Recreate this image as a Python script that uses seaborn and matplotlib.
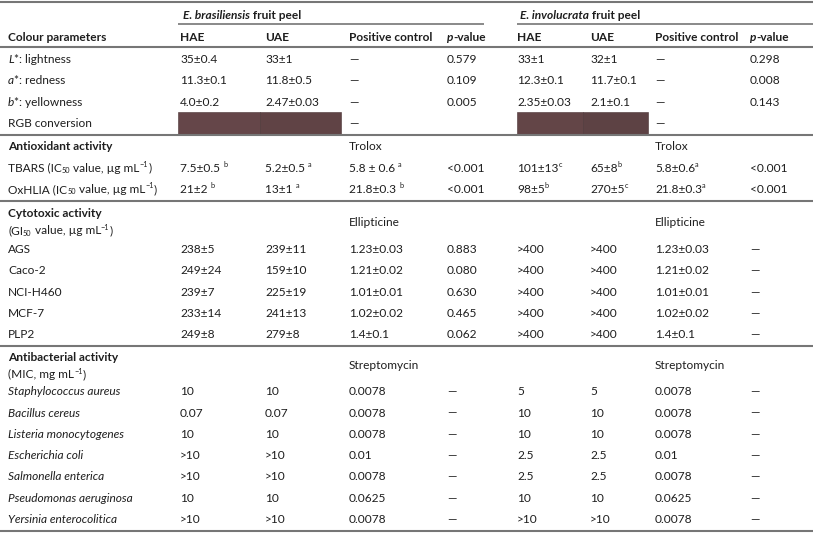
import re
import matplotlib
matplotlib.use("Agg")
import matplotlib.pyplot as plt
from matplotlib.patches import Rectangle
from matplotlib.font_manager import FontProperties
import seaborn as sns

# table content, "|" toggles italics, ^{..} superscript, _{..} subscript
species = ["|E. brasiliensis| fruit peel", "|E. involucrata| fruit peel"]
columns = ["HAE", "UAE", "Positive control", "|p|-value"]

colour_labels = ["|L|*: lightness", "|a|*: redness", "|b|*: yellowness", "RGB conversion"]
colour_brasiliensis = [["35±0.4", "33±1", "—", "0.579"],
                       ["11.3±0.1", "11.8±0.5", "—", "0.109"],
                       ["4.0±0.2", "2.47±0.03", "—", "0.005"],
                       ["", "", "—", ""]]
colour_involucrata = [["33±1", "32±1", "—", "0.298"],
                      ["12.3±0.1", "11.7±0.1", "—", "0.008"],
                      ["2.35±0.03", "2.1±0.1", "—", "0.143"],
                      ["", "", "—", ""]]
rgb_brasiliensis = ["#654649", "#604345"]
rgb_involucrata = ["#634547", "#5d4244"]

antiox_labels = ["TBARS (IC_{50} value, µg mL^{−1})", "OxHLIA (IC_{50} value, µg mL^{−1})"]
antiox_brasiliensis = [["7.5±0.5 ^{b}", "5.2±0.5 ^{a}", "5.8 ± 0.6 ^{a}", "<0.001"],
                       ["21±2 ^{b}", "13±1 ^{a}", "21.8±0.3 ^{b}", "<0.001"]]
antiox_involucrata = [["101±13^{c}", "65±8^{b}", "5.8±0.6^{a}", "<0.001"],
                      ["98±5^{b}", "270±5^{c}", "21.8±0.3^{a}", "<0.001"]]

cyto_labels = ["AGS", "Caco-2", "NCI-H460", "MCF-7", "PLP2"]
cyto_brasiliensis = [["238±5", "239±11", "1.23±0.03", "0.883"],
                     ["249±24", "159±10", "1.21±0.02", "0.080"],
                     ["239±7", "225±19", "1.01±0.01", "0.630"],
                     ["233±14", "241±13", "1.02±0.02", "0.465"],
                     ["249±8", "279±8", "1.4±0.1", "0.062"]]
cyto_involucrata = [[">400", ">400", "1.23±0.03", "—"],
                    [">400", ">400", "1.21±0.02", "—"],
                    [">400", ">400", "1.01±0.01", "—"],
                    [">400", ">400", "1.02±0.02", "—"],
                    [">400", ">400", "1.4±0.1", "—"]]

bact_labels = ["|Staphylococcus aureus|", "|Bacillus cereus|", "|Listeria monocytogenes|",
               "|Escherichia coli|", "|Salmonella enterica|", "|Pseudomonas aeruginosa|",
               "|Yersinia enterocolitica|"]
bact_brasiliensis = [["10", "10", "0.0078", "—"],
                     ["0.07", "0.07", "0.0078", "—"],
                     ["10", "10", "0.0078", "—"],
                     [">10", ">10", "0.01", "—"],
                     [">10", ">10", "0.0078", "—"],
                     ["10", "10", "0.0625", "—"],
                     [">10", ">10", "0.0078", "—"]]
bact_involucrata = [["5", "5", "0.0078", "—"],
                    ["10", "10", "0.0078", "—"],
                    ["10", "10", "0.0078", "—"],
                    ["2.5", "2.5", "0.01", "—"],
                    ["2.5", "2.5", "0.0078", "—"],
                    ["10", "10", "0.0625", "—"],
                    [">10", ">10", "0.0078", "—"]]

section_titles = ["Antioxidant activity", "Cytotoxic activity", "Antibacterial activity"]
section_units = ["", "(GI_{50} value, µg mL^{−1})", "(MIC, mg mL^{−1})"]
section_controls = ["Trolox", "Ellipticine", "Streptomycin"]

# style / layout
sns.set_theme(style="white")
FAMILY = ["Lato", "DejaVu Sans"]
plt.rcParams["font.family"] = FAMILY
FS = 8.6
INK = "#1e1e1e"
RULE = "#767676"
W, H = 813, 533
col_x = [180, 265, 349, 447, 517, 590, 655, 750]
ROW = 21.3

fig = plt.figure(figsize=(W / 100, H / 100), dpi=100)
ax = fig.add_axes([0, 0, 1, 1])
ax.set_xlim(0, W)
ax.set_ylim(H, 0)
ax.axis("off")
renderer = fig.canvas.get_renderer()


def advance(s, fp):
    w1 = renderer.get_text_width_height_descent("x" + s + "x", fp, ismath=False)[0]
    w0 = renderer.get_text_width_height_descent("xx", fp, ismath=False)[0]
    return w1 - w0


def put(x, y, markup, bold=False, size=FS):
    italic = False
    base = y + 4
    for tok in re.split(r"(\^\{[^}]*\}|_\{[^}]*\}|\|)", markup):
        if tok == "|":
            italic = not italic
            continue
        if not tok:
            continue
        sz, dy = size, 0
        if tok.startswith("^{"):
            tok, sz, dy = tok[2:-1], size * 0.62, -4.5
        elif tok.startswith("_{"):
            tok, sz, dy = tok[2:-1], size * 0.62, 1.5
        fp = FontProperties(family=FAMILY, size=sz, weight="bold" if bold else "normal",
                            style="italic" if italic else "normal")
        ax.text(x, base + dy, tok, fontproperties=fp, color=INK, va="baseline", ha="left")
        x += advance(tok, fp)


def rule(y, x0=0, x1=W, lw=1.5):
    ax.hlines(y, x0, x1, color=RULE, lw=lw)


def body(y, labels, left, right):
    for i, lab in enumerate(labels):
        yy = y + i * ROW
        put(8, yy, lab)
        for j, cell in enumerate(left[i] + right[i]):
            if cell:
                put(col_x[j], yy, cell)
    return y + (len(labels) - 1) * ROW


# header
rule(1.5)
put(183, 15, species[0], bold=True)
put(520, 15, species[1], bold=True)
rule(23.5, 178, 484, lw=1.2)
rule(23.5, 517, W, lw=1.2)
put(8, 37, "Colour parameters", bold=True)
for j, c in enumerate(columns + columns):
    put(col_x[j], 37, c, bold=True)
rule(46.5)

# colour parameters
y = body(59, colour_labels, colour_brasiliensis, colour_involucrata)
for cols, x0, x1 in [(rgb_brasiliensis, 178, 341), (rgb_involucrata, 517, 648)]:
    mid = (x0 + x1) / 2
    for k, c in enumerate(cols):
        a, b = (x0, mid) if k == 0 else (mid, x1)
        ax.add_patch(Rectangle((a, y - 11), b - a, 22, facecolor=c, edgecolor="#4a3335", lw=0.4))
rule(y + 12)

# antioxidant
y += 23.5
put(8, y, section_titles[0], bold=True)
put(col_x[2], y, section_controls[0])
put(col_x[6], y, section_controls[0])
y = body(y + ROW, antiox_labels, antiox_brasiliensis, antiox_involucrata)
rule(y + 12)

# cytotoxic
y += 24
put(8, y, section_titles[1], bold=True)
put(8, y + 17.5, section_units[1])
put(col_x[2], y + 9, section_controls[1])
put(col_x[6], y + 9, section_controls[1])
y = body(y + 36, cyto_labels, cyto_brasiliensis, cyto_involucrata)
rule(y + 11.5)

# antibacterial
y += 22.5
put(8, y, section_titles[2], bold=True)
put(8, y + 17.5, section_units[2])
put(col_x[2], y + 8.5, section_controls[2])
put(col_x[6], y + 8.5, section_controls[2])
y = body(y + 34.5, bact_labels, bact_brasiliensis, bact_involucrata)
rule(y + 12)

fig.savefig("out.png", dpi=100)
